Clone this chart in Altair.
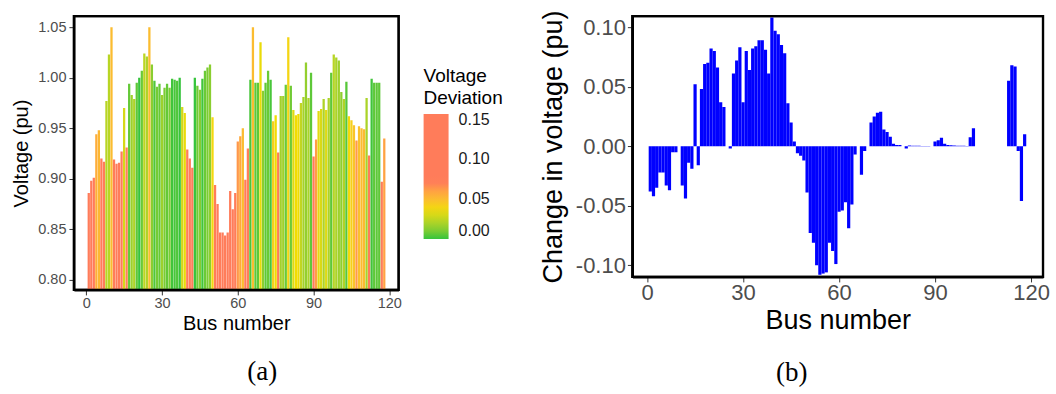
import altair as alt
import pandas as pd

bus = list(range(1, 119))

voltage = [
    0.886, 0.898, 0.901, 0.944, 0.948, 0.920, 0.917, 0.977, 1.023, 1.050,
    0.919, 0.915, 0.916, 0.927, 0.970, 0.931, 0.994, 0.983, 0.979, 0.995,
    1.000, 1.007, 1.024, 1.021, 1.050, 1.013, 0.997, 0.991, 0.994, 0.983,
    0.990, 0.994, 0.990, 0.999, 0.998, 0.997, 1.000, 0.971, 0.965, 0.929,
    0.920, 0.911, 1.000, 0.992, 0.988, 0.999, 1.007, 1.010, 1.013, 0.961,
    0.894, 0.875, 0.847, 0.847, 0.844, 0.847, 0.888, 0.870, 0.886, 0.937,
    0.942, 0.950, 0.899, 0.930, 0.998, 1.050, 0.995, 0.995, 1.035, 0.987,
    0.995, 1.007, 0.998, 0.957, 0.963, 0.926, 0.982, 0.982, 0.993, 1.040,
    0.992, 0.968, 0.963, 0.964, 0.975, 0.981, 1.015, 0.980, 1.005, 0.922,
    0.939, 0.967, 0.969, 0.979, 0.968, 0.980, 1.005, 1.023, 1.020, 1.017,
    0.986, 0.979, 0.996, 0.962, 0.958, 0.953, 0.938, 0.952, 0.950, 0.949,
    0.980, 0.923, 0.999, 0.995, 0.995, 0.995, 0.897, 0.940,
]

change = [
    -0.038, -0.042, -0.035, -0.022, -0.022, -0.033, -0.037, -0.005, -0.005, 0.0,
    -0.033, -0.044, -0.014, -0.019, 0.052, -0.016, 0.048, 0.069, 0.070, 0.082,
    0.080, 0.066, 0.037, 0.033, 0.0, -0.002, 0.061, 0.072, 0.083, 0.037,
    0.080, 0.064, 0.082, 0.084, 0.089, 0.089, 0.081, 0.061, 0.108, 0.097,
    0.094, 0.085, 0.078, 0.036, 0.020, 0.004, -0.006, -0.008, -0.012, -0.039,
    -0.073, -0.081, -0.100, -0.108, -0.107, -0.106, -0.081, -0.088, -0.099, -0.055,
    -0.054, -0.047, -0.069, -0.049, -0.007, 0.0, -0.024, -0.004, 0.0, 0.020,
    0.025, 0.028, 0.029, 0.014, 0.012, 0.008, 0.002, 0.001, 0.001, 0.0,
    -0.002, 0.0005, 0.0004, 0.0003, 0.0003, 0.0002, 0.0002, 0.0002, 0.0, 0.004,
    0.005, 0.007, 0.002, 0.001, 0.0008, 0.0005, 0.0004, 0.0003, 0.0003, 0.0002,
    0.0075, 0.015, 0.0, 0.0, 0.0, 0.0, 0.0, 0.0, 0.0, 0.0,
    0.0, 0.0, 0.055, 0.068, 0.067, -0.004, -0.046, 0.010,
]

x_ticks = [0, 30, 60, 90, 120]
va_ticks = [0.80, 0.85, 0.90, 0.95, 1.00, 1.05]
vb_ticks = [-0.10, -0.05, 0.00, 0.05, 0.10]
legend_ticks = [0.00, 0.05, 0.10, 0.15]

dev_stops = [0.0, 0.037, 0.058, 0.071, 0.157]
dev_colors = ["#36C43C", "#F2DC00", "#FFA83C", "#FF7C5A", "#FF7C5A"]

df = pd.DataFrame({"bus": bus, "voltage": voltage, "change": change})

FONT = "Liberation Sans"
LABEL_GREY = "#4D4D4D"
TICK_GREY = "#333333"

A_W, A_H = 325, 274
B_W, B_H = 411, 261


def frame(w, h):
    return (
        alt.Chart(pd.DataFrame({"k": [0]}))
        .mark_rect(filled=False, color="black", strokeWidth=2.2, opacity=1)
        .encode(x=alt.value(0), x2=alt.value(w), y=alt.value(0), y2=alt.value(h))
    )


# ---------- panel (a) ----------
bars_a = (
    alt.Chart(df)
    .transform_calculate(
        x0="datum.bus - 0.45",
        x1="datum.bus + 0.45",
        base="0",
        dev="abs(datum.voltage - 1)",
    )
    .mark_bar(clip=True)
    .encode(
        x=alt.X(
            "x0:Q",
            scale=alt.Scale(domain=[-4.87, 123.68], nice=False, zero=False),
            axis=alt.Axis(
                values=x_ticks, format="d", title="Bus number",
                labelFontSize=14.5, labelColor=LABEL_GREY, labelFont=FONT,
                tickColor=TICK_GREY, tickSize=5, labelPadding=2,
                titleFontSize=20, titleFont=FONT, titleFontWeight="normal",
                titleColor="black", titlePadding=3,
                domain=True, domainColor="black", domainWidth=2.2, grid=False,
            ),
        ),
        x2="x1:Q",
        y=alt.Y(
            "voltage:Q",
            scale=alt.Scale(domain=[0.7901, 1.0609], nice=False, zero=False),
            axis=alt.Axis(
                values=va_ticks, format=".2f", title="Voltage (pu)",
                labelFontSize=14.5, labelColor=LABEL_GREY, labelFont=FONT,
                tickColor=TICK_GREY, tickSize=5, labelPadding=3,
                titleFontSize=20, titleFont=FONT, titleFontWeight="normal",
                titleColor="black", titlePadding=6,
                domain=True, domainColor="black", domainWidth=2.2, grid=False,
            ),
        ),
        y2="base:Q",
        color=alt.Color(
            "dev:Q",
            scale=alt.Scale(domain=dev_stops, range=dev_colors, interpolate="lab"),
            legend=alt.Legend(
                title=["Voltage", "Deviation"], orient="none",
                legendX=350, legendY=51, direction="vertical",
                values=legend_ticks, format=".2f",
                gradientLength=125, gradientThickness=25, gradientStrokeWidth=0,
                titleFont=FONT, titleFontSize=19, titleFontWeight="normal",
                titleColor="black", titleLineHeight=22, titlePadding=6,
                labelFont=FONT, labelFontSize=16, labelColor="#1A1A1A",
                labelOffset=10, labelBaseline="middle",
            ),
        ),
    )
)

panel_a = alt.layer(bars_a, frame(A_W, A_H)).properties(
    width=A_W, height=A_H,
    title=alt.TitleParams(
        "(a)", orient="bottom", anchor="middle", font="Liberation Serif",
        fontSize=27, fontWeight="normal", color="black", offset=26, dx=26,
    ),
)

# ---------- panel (b) ----------
bars_b = (
    alt.Chart(df)
    .transform_calculate(x0="datum.bus - 0.5", x1="datum.bus + 0.5", base="0")
    .mark_bar(color="#0000FF", clip=True)
    .encode(
        x=alt.X(
            "x0:Q",
            scale=alt.Scale(domain=[-4.59, 123.74], nice=False, zero=False),
            axis=alt.Axis(
                values=x_ticks, format="d", title="Bus number",
                labelFontSize=22, labelColor=LABEL_GREY, labelFont=FONT,
                tickColor=TICK_GREY, tickSize=5, labelPadding=1,
                titleFontSize=27, titleFont=FONT, titleFontWeight="normal",
                titleColor="black", titlePadding=4,
                domain=True, domainColor="black", domainWidth=2.2, grid=False,
            ),
        ),
        x2="x1:Q",
        y=alt.Y(
            "change:Q",
            scale=alt.Scale(domain=[-0.1098, 0.1092], nice=False, zero=False),
            axis=alt.Axis(
                values=vb_ticks, title="Change in voltage (pu)",
                labelExpr="replace(format(datum.value, '.2f'), '\u2212', '-')",
                labelFontSize=22, labelColor=LABEL_GREY, labelFont=FONT,
                tickColor=TICK_GREY, tickSize=5, labelPadding=2,
                titleFontSize=27, titleFont=FONT, titleFontWeight="normal",
                titleColor="black", titlePadding=8,
                domain=True, domainColor="black", domainWidth=2.2, grid=False,
            ),
        ),
        y2="base:Q",
    )
)

panel_b = alt.layer(bars_b, frame(B_W, B_H)).properties(
    width=B_W, height=B_H,
    title=alt.TitleParams(
        "(b)", orient="bottom", anchor="middle", font="Liberation Serif",
        fontSize=27, fontWeight="normal", color="black", offset=26, dx=-46,
    ),
)

chart = (
    alt.hconcat(panel_a, panel_b, spacing=234, bounds="flush")
    .properties(padding={"left": 10, "top": 8, "right": 5, "bottom": 2},
                background="white")
    .configure_view(stroke="black", strokeWidth=2.2)
)

chart.save("out.html", embed_options={"renderer": "svg", "actions": False})
